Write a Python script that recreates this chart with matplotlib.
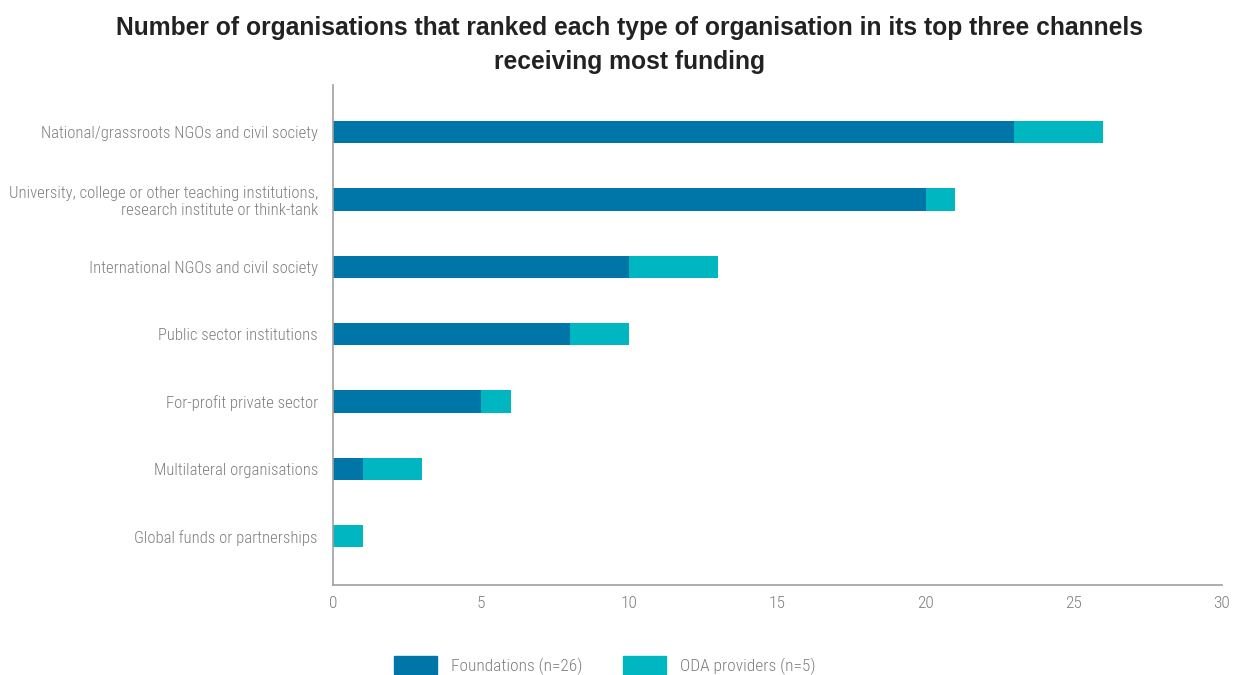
import matplotlib
matplotlib.use("Agg")
import matplotlib.pyplot as plt
from matplotlib.patches import Patch

categories = [
    "National/grassroots NGOs and civil society",
    "University, college or other teaching institutions,\nresearch institute or think-tank",
    "International NGOs and civil society",
    "Public sector institutions",
    "For-profit private sector",
    "Multilateral organisations",
    "Global funds or partnerships",
]
foundations = [23, 20, 10, 8, 5, 1, 0]
oda = [3, 1, 3, 2, 1, 2, 1]
series_names = ["Foundations (n=26)", "ODA providers (n=5)"]
xticks = [0, 5, 10, 15, 20, 25, 30]

c_found = "#0076a8"
c_oda = "#00b7c1"
gray = "#7f7f7f"
plt.rcParams['font.family'] = ['Roboto Condensed', 'DejaVu Sans']
plt.rcParams['font.weight'] = 300

fig = plt.figure(figsize=(12.34, 6.75), dpi=100)
ax = fig.add_axes([0.270, 0.133, 0.720, 0.741])
y = list(range(len(categories)))
ax.barh(y, foundations, height=0.33, color=c_found)
ax.barh(y, oda, left=foundations, height=0.33, color=c_oda)
ax.set_ylim(6.73, -0.7)
ax.set_xlim(0, 30)
ax.set_xticks(xticks)
ax.set_yticks(y)
ax.set_yticklabels(categories, fontsize=12, color=gray, linespacing=1.15, fontweight=300)
for t in ax.get_xticklabels():
    t.set_fontweight(300)
ax.tick_params(axis='x', labelsize=12.5, labelcolor=gray, length=0, pad=8)
ax.tick_params(axis='y', length=0, pad=11)
for s in ['top', 'right']:
    ax.spines[s].set_visible(False)
for s in ['left', 'bottom']:
    ax.spines[s].set_color('#a0a0a0')
    ax.spines[s].set_linewidth(1.2)

fig.suptitle("Number of organisations that ranked each type of organisation in its top three channels\nreceiving most funding",
             x=0.51, y=0.976, fontsize=17.7, fontweight='bold', color='#222222',
             family=['Liberation Sans', 'DejaVu Sans'], linespacing=1.5)

handles = [Patch(color=c_found), Patch(color=c_oda)]
leg = fig.legend(handles, series_names, loc='center', bbox_to_anchor=(0.49, 0.014), ncol=2,
                 frameon=False, fontsize=12.5, labelcolor=gray, handlelength=2.5, handleheight=1.15,
                 columnspacing=2.3, handletextpad=0.8, borderaxespad=0)
for t in leg.get_texts():
    t.set_fontweight(300)

fig.savefig("out.png", dpi=100)
